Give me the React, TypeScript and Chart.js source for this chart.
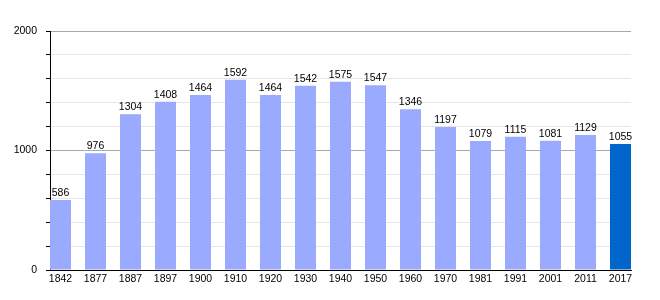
import React, { useEffect, useRef } from "react";
import { Chart, registerables } from "chart.js";

Chart.register(...registerables);

const years = ["1842", "1877", "1887", "1897", "1900", "1910", "1920", "1930", "1940", "1950", "1960", "1970", "1981", "1991", "2001", "2011", "2017"];
const population = [586, 976, 1304, 1408, 1464, 1592, 1464, 1542, 1575, 1547, 1346, 1197, 1079, 1115, 1081, 1129, 1055];
const yTickLabels = [0, 1000, 2000];

const FONT = "'Liberation Sans', Arial, sans-serif";

const valueLabels = {
  id: "valueLabels",
  afterDatasetsDraw(chart: any) {
    const ctx = chart.ctx;
    const meta = chart.getDatasetMeta(0);
    ctx.save();
    ctx.font = `10.5px ${FONT}`;
    ctx.fillStyle = "#000";
    ctx.textAlign = "center";
    ctx.textBaseline = "alphabetic";
    meta.data.forEach((bar: any, i: number) => {
      ctx.fillText(String(population[i]), bar.x, bar.y - 4);
    });
    ctx.restore();
  },
};

export default function App() {
  const ref = useRef<HTMLCanvasElement>(null);
  useEffect(() => {
    if (!ref.current) return;
    const chart = new Chart(ref.current, {
      type: "bar",
      data: {
        datasets: [
          {
            data: population.map((v, i) => ({ x: i, y: v })),
            backgroundColor: population.map((_, i) => (i === population.length - 1 ? "#0066cc" : "#99aaff")),
            barPercentage: 0.6,
            categoryPercentage: 1,
          },
        ],
      },
      options: {
        animation: false,
        responsive: false,
        maintainAspectRatio: false,
        layout: { padding: { top: 31, right: 29, left: 0, bottom: 0 } },
        plugins: { legend: { display: false }, tooltip: { enabled: false } },
        scales: {
          x: {
            type: "linear",
            offset: false,
            min: -0.3,
            max: years.length - 1 + 0.3,
            grid: { display: false, offset: false, drawTicks: false },
            border: { display: true, color: "#000", width: 1 },
            afterBuildTicks: (scale: any) => {
              scale.ticks = years.map((_, i) => ({ value: i }));
            },
            afterFit: (scale: any) => {
              scale.height = 30;
            },
            ticks: {
              autoSkip: false,
              maxRotation: 0,
              padding: 3,
              color: "#000",
              font: { family: FONT, size: 10.5 },
              callback: (v: any) => years[v] ?? "",
            },
          },
          y: {
            min: 0,
            max: 2000,
            afterFit: (scale: any) => {
              scale.width = 50;
            },
            border: { display: true, color: "#000", width: 1 },
            grid: {
              color: (c: any) => (c.tick && c.tick.value % 1000 === 0 ? "#a8a8a8" : "#e6e6e6"),
              tickColor: "#000",
              tickLength: 4,
              lineWidth: 1,
            },
            ticks: {
              stepSize: 200,
              padding: 9,
              color: "#000",
              font: { family: FONT, size: 10.5 },
              callback: (v: any) => (yTickLabels.includes(Number(v)) ? String(v) : ""),
            },
          },
        },
      },
      plugins: [valueLabels],
    } as any);
    return () => chart.destroy();
  }, []);
  return (
    <div style={{ position: "fixed", left: 0, top: 0, width: 660, height: 300, background: "#fff" }}>
      <canvas ref={ref} width={660} height={300} style={{ width: 660, height: 300, display: "block" }} />
    </div>
  );
}
